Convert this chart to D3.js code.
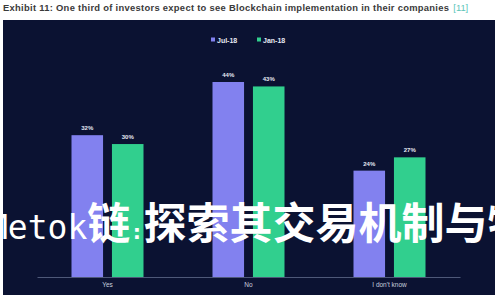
<!DOCTYPE html>
<html>
<head>
<meta charset="utf-8">
<script src="https://cdn.jsdelivr.net/npm/d3@7"></script>
<style>
  body { margin: 0; background: #fff; }
  svg { display: block; }
</style>
</head>
<body>
<div id="chart"></div>
<script>
// data
var categories = ["Yes", "No", "I don't know"];
var seriesNames = ["Jul-18", "Jan-18"];
var jul18 = [32, 44, 24];
var jan18 = [30, 43, 27];
var colors = ["#8281ef", "#31cf8e"];

var svgWidth = 500;
var svgHeight = 300;

var svg = d3.select("#chart")
  .append("svg")
  .attr("width", svgWidth)
  .attr("height", svgHeight);

// title
var title = svg.append("text")
  .attr("x", 3)
  .attr("y", 11)
  .attr("font-family", "Liberation Sans, Arial, sans-serif")
  .attr("font-size", "9.4px")
  .attr("font-weight", "bold")
  .attr("fill", "#3a3a3a");
title.append("tspan")
  .attr("textLength", 446)
  .attr("lengthAdjust", "spacing")
  .text("Exhibit 11: One third of investors expect to see Blockchain implementation in their companies");
title.append("tspan").attr("dx", 4).attr("fill", "#5cc5b8").attr("font-weight", "normal").text("[11]");

// dark panel
svg.append("rect")
  .attr("x", 3)
  .attr("y", 20)
  .attr("width", 492)
  .attr("height", 275)
  .attr("fill", "#0b1232");

// scales
var x0 = d3.scaleBand()
  .domain(categories)
  .range([37, 460])
  .padding(0);

var x1 = d3.scaleBand()
  .domain(seriesNames)
  .range([-36, 36])
  .paddingInner(0.22);

var y = d3.scaleLinear()
  .domain([0, 44])
  .range([277, 82]);

var rows = categories.map(function(c, i) {
  return { cat: c, values: [
    { key: seriesNames[0], value: jul18[i] },
    { key: seriesNames[1], value: jan18[i] }
  ]};
});

var chartGroup = svg.append("g");

var groups = chartGroup.selectAll(".grp")
  .data(rows)
  .enter()
  .append("g")
  .attr("class", "grp")
  .attr("transform", d => `translate(${x0(d.cat) + x0.bandwidth() / 2}, 0)`);

groups.selectAll("rect")
  .data(d => d.values)
  .enter()
  .append("rect")
  .attr("x", d => x1(d.key))
  .attr("y", d => y(d.value))
  .attr("width", x1.bandwidth())
  .attr("height", d => y(0) - y(d.value))
  .attr("fill", (d, i) => colors[i]);

// value labels
groups.selectAll("text")
  .data(d => d.values)
  .enter()
  .append("text")
  .attr("x", d => x1(d.key) + x1.bandwidth() / 2)
  .attr("y", d => y(d.value) - 5)
  .attr("text-anchor", "middle")
  .attr("font-family", "Liberation Sans, Arial, sans-serif")
  .attr("font-size", "6px")
  .attr("font-weight", "bold")
  .attr("fill", "#e6e8f2")
  .text(d => d.value + "%");

// x axis
var bottomAxis = d3.axisBottom(x0).tickSize(0).tickPadding(5);
var axisG = chartGroup.append("g")
  .attr("transform", `translate(0, ${y(0)})`)
  .call(bottomAxis);
axisG.select(".domain").attr("stroke", "#4e5878").attr("stroke-width", 1);
axisG.selectAll("text")
  .attr("font-family", "Liberation Sans, Arial, sans-serif")
  .attr("font-size", "6.5px")
  .attr("fill", "#c9cede");

// legend
var legend = svg.append("g");
var legendX = [211, 257];
seriesNames.forEach(function(name, i) {
  legend.append("rect")
    .attr("x", legendX[i])
    .attr("y", 37.5)
    .attr("width", 4)
    .attr("height", 4)
    .attr("fill", colors[i]);
  legend.append("text")
    .attr("x", legendX[i] + 6)
    .attr("y", 42.5)
    .attr("font-family", "Liberation Sans, Arial, sans-serif")
    .attr("font-size", "7px")
    .attr("font-weight", "bold")
    .attr("fill", "#e6e8f2")
    .text(name);
});

// overlay heading
var overlay = svg.append("text")
  .attr("x", -12)
  .attr("y", 239)
  .attr("fill", "#ffffff")
  .attr("font-weight", "bold");
overlay.append("tspan")
  .attr("font-family", "DejaVu Sans Mono, monospace")
  .attr("font-size", "33px")
  .attr("font-weight", "normal")
  .text("Metok");
overlay.append("tspan")
  .attr("font-family", "Noto Sans CJK SC, sans-serif")
  .attr("font-size", "43px")
  .text("链");
overlay.append("tspan")
  .attr("font-family", "DejaVu Sans Mono, monospace")
  .attr("font-size", "22px")
  .text(":");
overlay.append("tspan")
  .attr("font-family", "Noto Sans CJK SC, sans-serif")
  .attr("font-size", "43px")
  .text("探索其交易机制与特点");
</script>
</body>
</html>
